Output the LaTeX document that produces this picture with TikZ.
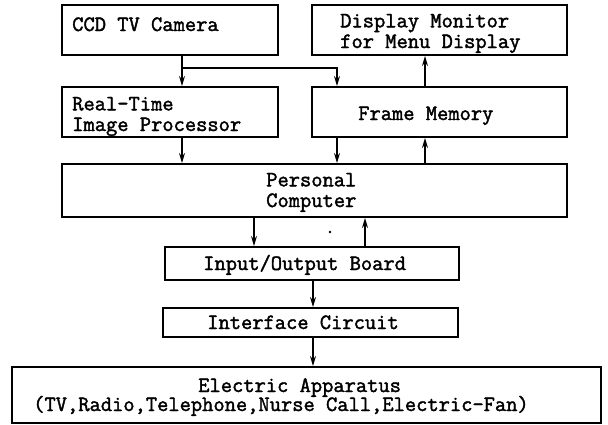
\documentclass[tikz,border=0pt]{standalone}
\usepackage{fontspec}
\usetikzlibrary{arrows.meta}
\newfontfamily\blockfont[FakeBold=1.8]{Latin Modern Mono}

\tikzset{
  blk/.style={draw, line width=1.5pt, inner sep=0pt},
  lbl/.style={inner sep=0pt, align=left, anchor=base west,
    font=\blockfont\fontsize{16.4}{15.5}\selectfont},
  link/.style={-{Stealth[length=7.5pt,width=4.5pt]}, line width=1pt},
}

\begin{document}
\begin{tikzpicture}[x=0.75pt,y=-0.75pt]
\useasboundingbox (0,0) rectangle (608,425);

% boxes
\node[blk, minimum width=162pt, minimum height=37.5pt] (cam) at (170,30) {};
\node[blk, minimum width=191.25pt, minimum height=37.5pt] (disp) at (439.5,30) {};
\node[blk, minimum width=162pt, minimum height=37.5pt] (rtp) at (170,112) {};
\node[blk, minimum width=191.25pt, minimum height=37.5pt] (fm) at (439.5,112) {};
\node[blk, minimum width=378.75pt, minimum height=39.75pt] (pc) at (314.5,190.5) {};
\node[blk, minimum width=220.5pt, minimum height=24.75pt] (io) at (312,263.5) {};
\node[blk, minimum width=221.25pt, minimum height=21.75pt] (ifc) at (310.5,322.5) {};
\node[blk, minimum width=441.75pt, minimum height=42pt] (app) at (306.5,395) {};

% texts (base = last line)
\node[lbl] (camtxt) at (72,31) {CCD TV Camera};
\node[lbl] (disptxt) at (340,48) {Display Monitor\\for Menu Display};
\node[lbl] (rtptxt) at (72,131) {Real-Time\\Image Processor};
\node[lbl] (fmtxt) at (358,120) {Frame Memory};
\node[lbl] (pctxt) at (266,207) {Personal\\Computer};
\node[lbl] (iotxt) at (203,270) {Input/Output Board};
\node[lbl] (ifctxt) at (207,329) {Interface Circuit};
\node[lbl] (apptxt1) at (198,392) {Electric Apparatus};
\node[lbl] (apptxt2) at (33,411) {(TV,Radio,Telephone,Nurse Call,Electric-Fan)};

% arrows
\coordinate (split) at (182,68);
\coordinate (xb) at (337,0);
\coordinate (xc) at (425,0);
\coordinate (xd) at (254,0);
\coordinate (xe) at (365,0);
\coordinate (xf) at (313,0);
\draw[link] (split |- cam.south) -- (split |- rtp.north);
\draw[link] (split) -| (xb |- fm.north);
\draw[link] (xc |- fm.north) -- (xc |- disp.south);
\draw[link] (split |- rtp.south) -- (split |- pc.north);
\draw[link] (xb |- fm.south) -- (xb |- pc.north);
\draw[link] (xc |- pc.north) -- (xc |- fm.south);
\draw[link] (xd |- pc.south) -- (xd |- io.north);
\draw[link] (xe |- io.north) -- (xe |- pc.south);
\draw[link] (xf |- io.south) -- (xf |- ifc.north);
\draw[link] (xf |- ifc.south) -- (xf |- app.north);
\fill (330,232) circle[radius=1pt];
\end{tikzpicture}
\end{document}
